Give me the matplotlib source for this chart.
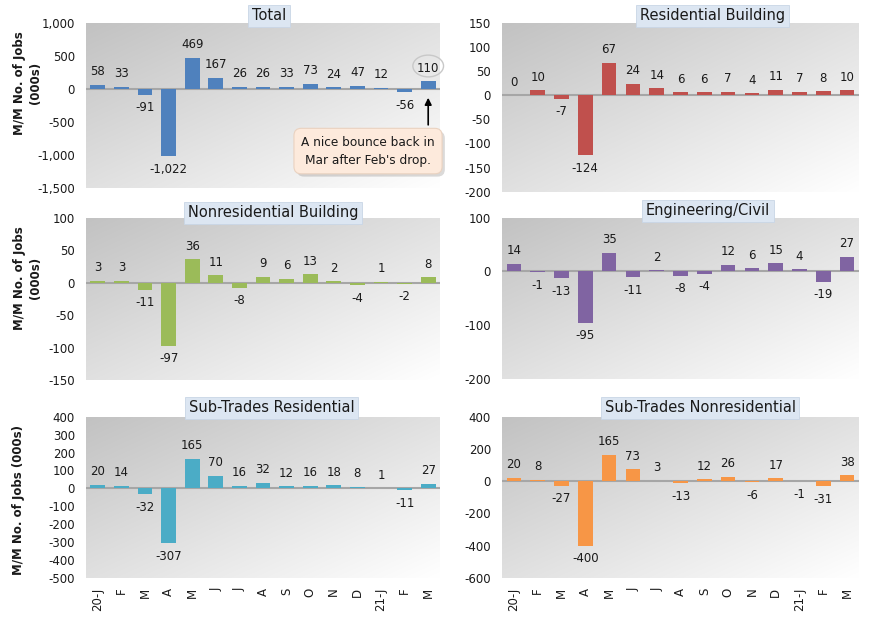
import numpy as np
import matplotlib
matplotlib.use("Agg")
import matplotlib.pyplot as plt
from matplotlib.patches import Ellipse
import matplotlib.patheffects as pe

months = ["20-J", "F", "M", "A", "M", "J", "J", "A", "S", "O", "N", "D", "21-J", "F", "M"]

total = [58, 33, -91, -1022, 469, 167, 26, 26, 33, 73, 24, 47, 12, -56, 110]
residential = [0, 10, -7, -124, 67, 24, 14, 6, 6, 7, 4, 11, 7, 8, 10]
nonresidential = [3, 3, -11, -97, 36, 11, -8, 9, 6, 13, 2, -4, 1, -2, 8]
engineering = [14, -1, -13, -95, 35, -11, 2, -8, -4, 12, 6, 15, 4, -19, 27]
subtrades_res = [20, 14, -32, -307, 165, 70, 16, 32, 12, 16, 18, 8, 1, -11, 27]
subtrades_nonres = [20, 8, -27, -400, 165, 73, 3, -13, 12, 26, -6, 17, -1, -31, 38]

titles = ["Total", "Residential Building", "Nonresidential Building",
          "Engineering/Civil", "Sub-Trades Residential", "Sub-Trades Nonresidential"]
series = [total, residential, nonresidential, engineering, subtrades_res, subtrades_nonres]
colors = ["#4f81bd", "#c0504d", "#9bbb59", "#8064a2", "#4bacc6", "#f79646"]
yticks_list = [
    [-1500, -1000, -500, 0, 500, 1000],
    [-200, -150, -100, -50, 0, 50, 100, 150],
    [-150, -100, -50, 0, 50, 100],
    [-200, -100, 0, 100],
    [-500, -400, -300, -200, -100, 0, 100, 200, 300, 400],
    [-600, -400, -200, 0, 200, 400],
]

W, H = 870, 625
fig = plt.figure(figsize=(W / 100, H / 100), dpi=100)
fig.patch.set_facecolor("white")

# pixel rectangles (x0, y0_top, x1, y1_bottom)
rects = [
    (86, 22.7, 440, 187.7),
    (502, 22.7, 859, 191.7),
    (86, 217.7, 440, 380),
    (502, 217.7, 859, 379),
    (86, 416.7, 440, 578),
    (502, 416.7, 859, 578),
]
title_frac = [0.517, 0.59, 0.528, 0.577, 0.525, 0.555]
title_off = [7, 7, 5, 7, 9, 9]

# gradient background
n = 200
X, R = np.meshgrid(np.linspace(0, 1, n), np.linspace(0, 1, n))
t = (X + R) / 2.0
g = 0.76 + 0.24 * t
grad = np.dstack([g, g, g])

x = np.arange(len(months))

axes = []
for k in range(6):
    x0, y0, x1, y1 = rects[k]
    ax = fig.add_axes([x0 / W, 1 - y1 / H, (x1 - x0) / W, (y1 - y0) / H])
    axes.append(ax)
    hpx = y1 - y0
    yt = yticks_list[k]
    ax.imshow(grad, extent=[0, 1, 0, 1], transform=ax.transAxes, aspect="auto",
              zorder=0, interpolation="bilinear")
    vals = series[k]
    ax.bar(x, vals, width=0.62, color=colors[k], zorder=3)
    ax.axhline(0, color="#a6a6a6", lw=1.5, zorder=2)
    for i, v in enumerate(vals):
        ax.annotate(f"{v:,}", (i, v), xytext=(0, 9.4 if v >= 0 else -9.4),
                    textcoords="offset points", ha="center", va="center",
                    fontsize=8.5, color="#1a1a1a", zorder=5)
    ax.set_xlim(-0.5, len(months) - 0.5)
    ax.set_ylim(yt[0], yt[-1])
    ax.set_yticks(yt)
    ax.set_yticklabels([f"{v:,}" for v in yt])
    ax.tick_params(axis="y", length=0, pad=8, labelsize=8.5, labelcolor="#1a1a1a")
    if k >= 4:
        ax.set_xticks(x)
        ax.set_xticklabels(months, rotation=90)
        ax.tick_params(axis="x", length=0, pad=7, labelsize=8.5, labelcolor="#1a1a1a")
    else:
        ax.set_xticks([])
    for s in ax.spines.values():
        s.set_visible(False)
    ax.text(title_frac[k], 1 + title_off[k] / hpx, titles[k], transform=ax.transAxes,
            ha="center", va="center", fontsize=10.5, color="#1a1a1a", zorder=10,
            bbox=dict(boxstyle="square,pad=0.25", fc="#dce6f2", ec="#c9d6e6", lw=0.6),
            clip_on=False)

# y labels
axes[0].text(-0.164, 0.635, "M/M No. of Jobs\n(000s)", transform=axes[0].transAxes,
             rotation=90, ha="center", va="center", fontsize=8.5, fontweight="bold",
             linespacing=1.3, color="#1a1a1a")
axes[2].text(-0.164, 0.628, "M/M No. of Jobs\n(000s)", transform=axes[2].transAxes,
             rotation=90, ha="center", va="center", fontsize=8.5, fontweight="bold",
             linespacing=1.3, color="#1a1a1a")
axes[4].text(-0.192, 0.484, "M/M No. of Jobs (000s)", transform=axes[4].transAxes,
             rotation=90, ha="center", va="center", fontsize=8.5, fontweight="bold",
             color="#1a1a1a")

# annotation on Total panel
ax = axes[0]
ell = Ellipse((14, 344), width=1.3, height=330, facecolor="none",
              edgecolor="#c8c8c8", lw=1.0, zorder=4, clip_on=False)
ax.add_patch(ell)
ax.annotate("", xy=(14, -95), xytext=(14, -590),
            arrowprops=dict(arrowstyle="-|>", color="black", lw=1.2, mutation_scale=10),
            zorder=6, annotation_clip=False)
txt = ax.text(11.45, -945, "A nice bounce back in\nMar after Feb's drop.",
              ha="center", va="center", fontsize=8.7, color="#1a1a1a", linespacing=1.5,
              zorder=7, clip_on=False,
              bbox=dict(boxstyle="round,pad=0.6", fc="#fdeadc", ec="#ead2c0", lw=0.8))
txt.get_bbox_patch().set_path_effects([pe.SimplePatchShadow(offset=(2, -2), alpha=0.2),
                                       pe.Normal()])

fig.savefig("out.png", dpi=100)
